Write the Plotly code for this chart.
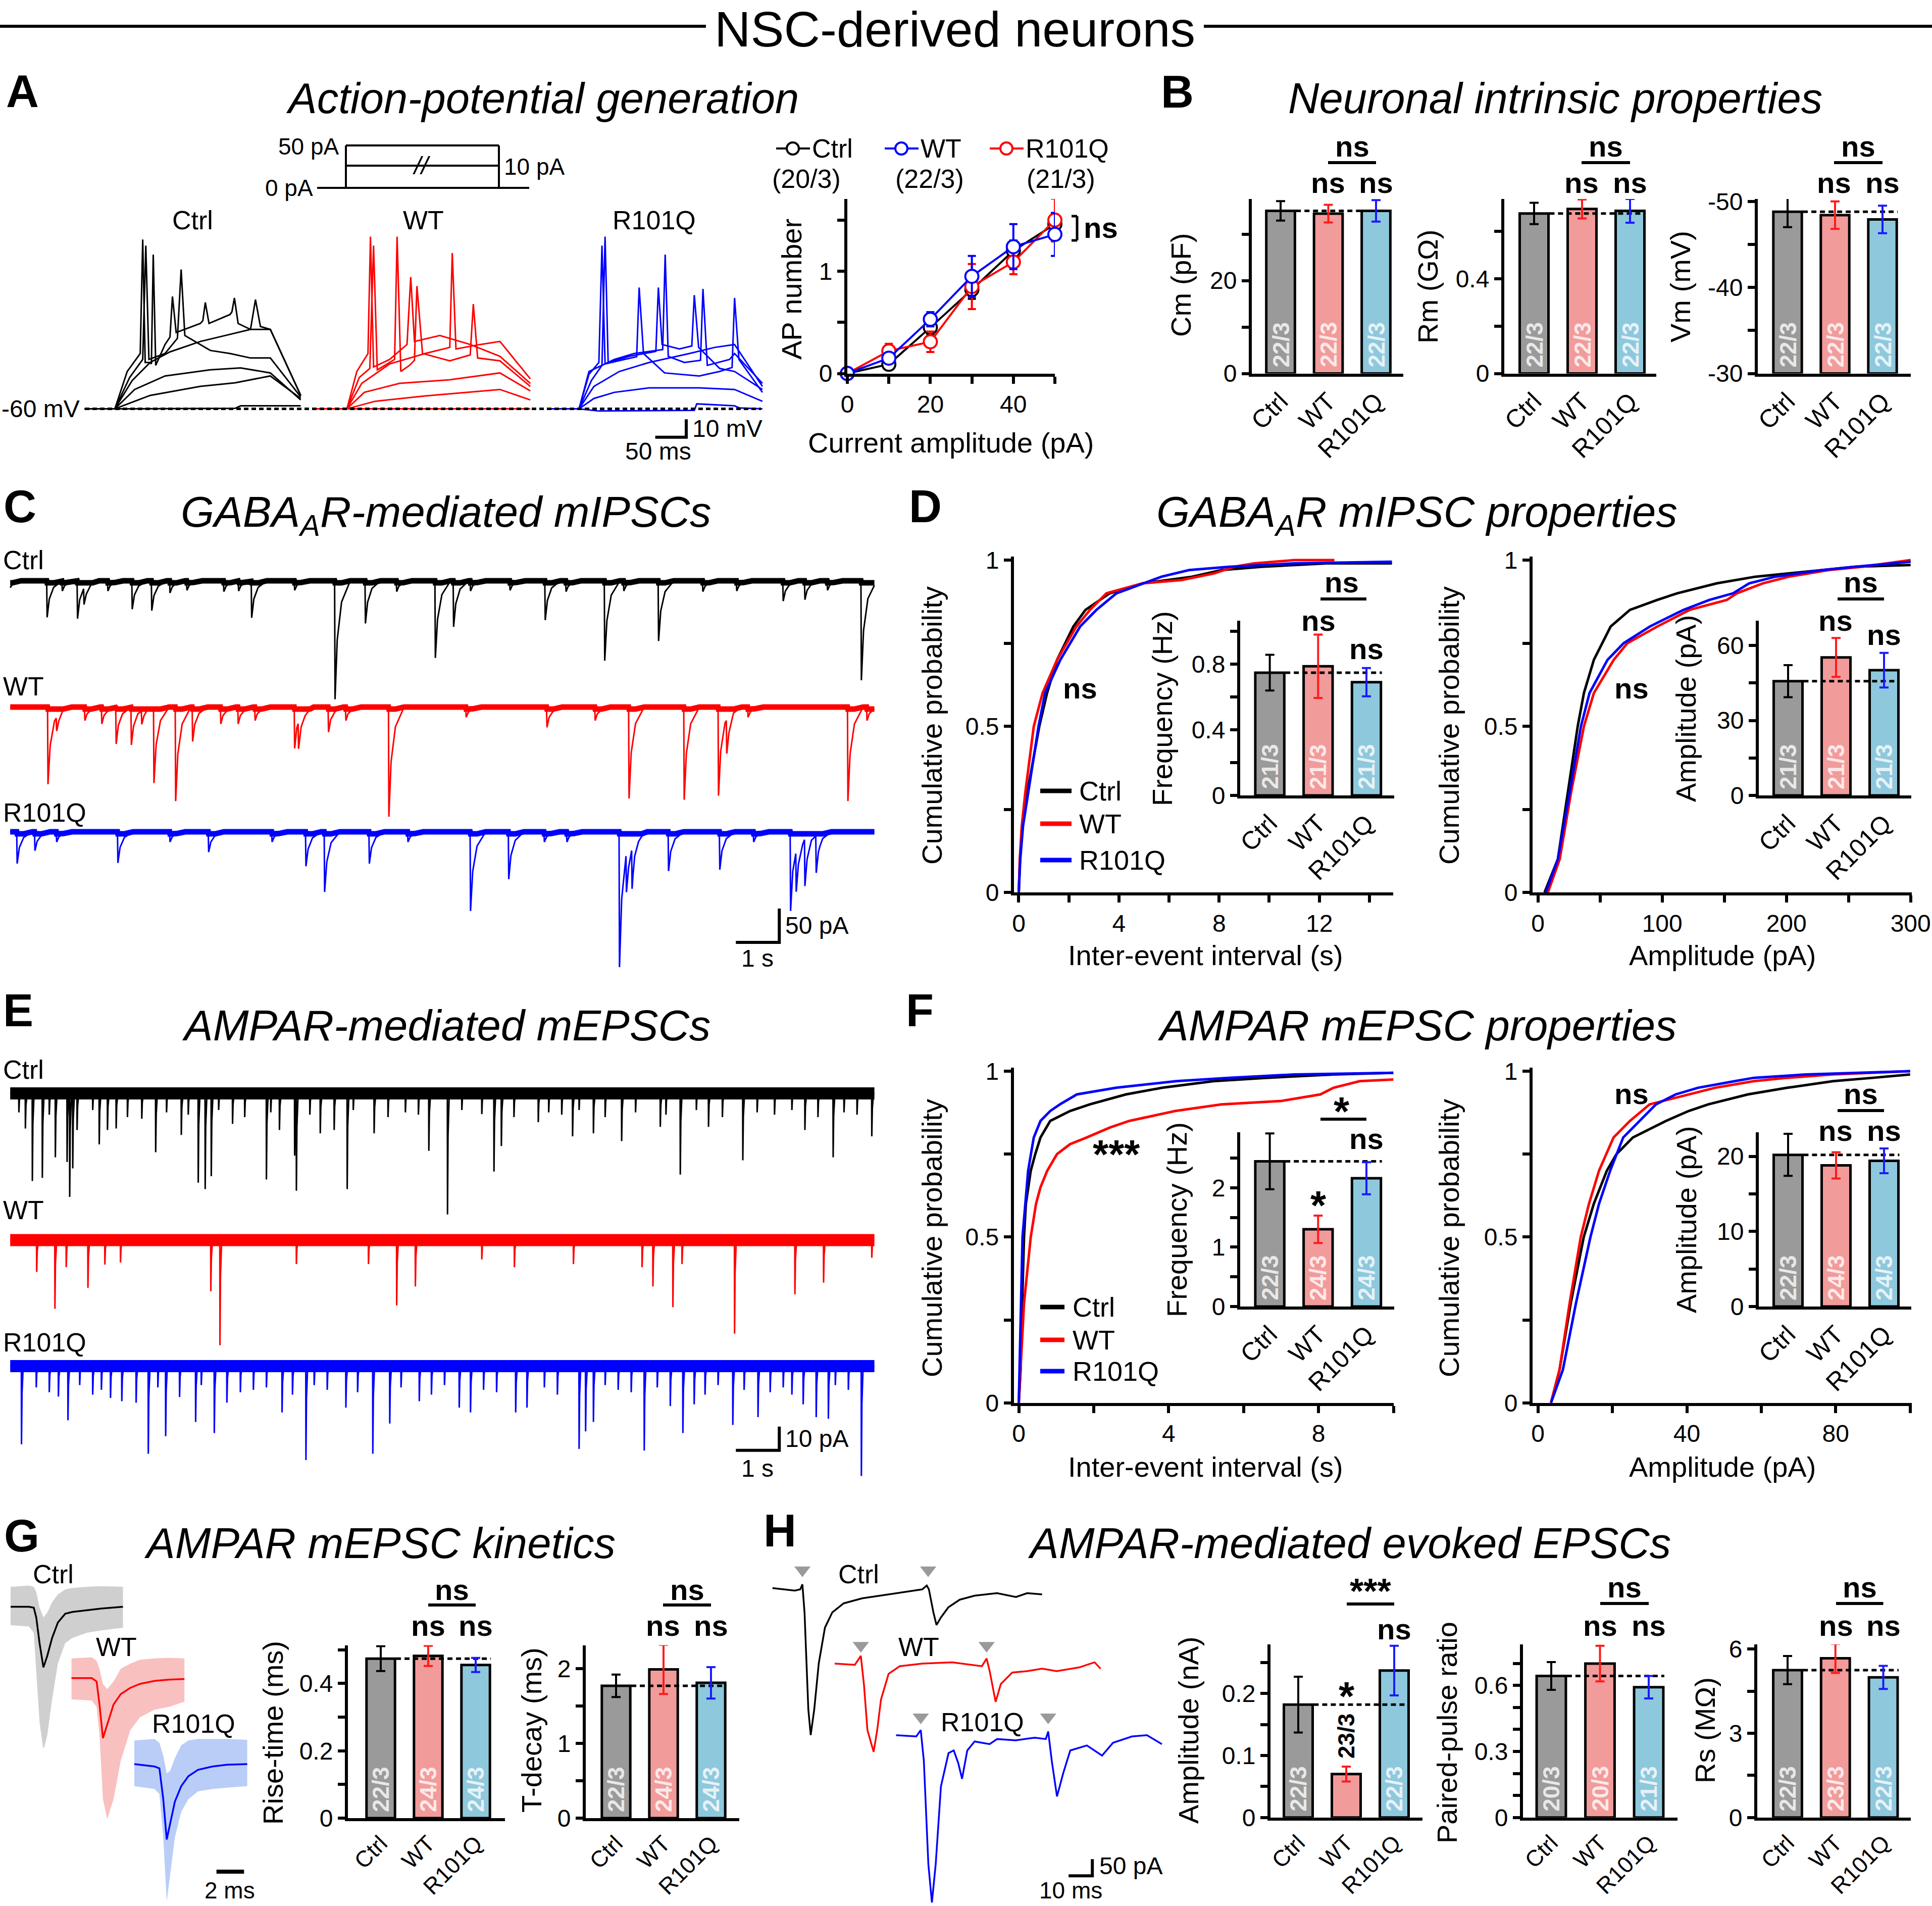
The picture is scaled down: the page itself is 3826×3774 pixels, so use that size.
import numpy as np
import plotly.graph_objects as go

W, H = 3826, 3774
FONT = "Liberation Sans, Arial, Helvetica, sans-serif"

# ------------------------------------------------------------------ DATA
GROUPS = ["Ctrl", "WT", "R101Q"]
BAR_FILL = ["#9a9a9a", "#f29b9b", "#8ec8dd"]
ERR_COL = ["#000000", "#ff1a1a", "#1a1aff"]
TRACE_COL = ["#000000", "#ff0000", "#0000ff"]
ENV_COL = ["#cfcfcf", "#f9c0c0", "#b9cdf7"]

# A: example voltage responses (ms, mV), six current steps each
A_REST_MV = -60
A_CTRL_T = [
    [-49, 0, 194, 203, 300],
    [-49, 0, 57, 138, 194, 251, 300],
    [-49, 0, 32, 81, 154, 203, 251, 300],
    [-49, 0, 28, 57, 89, 138, 178, 219, 227, 235, 251, 300],
    [-49, 0, 24, 45, 50, 55, 81, 101, 107, 113, 154, 186, 219, 251, 300],
    [-49, 0, 20, 41, 45, 49, 57, 59, 62, 66, 81, 89, 93, 99, 138, 142, 146, 152, 186, 189, 193, 199, 219, 251, 300],
]
A_CTRL_V = [
    [-60, -60, -59.7, -58.3, -58.3],
    [-60, -60, -52.5, -47.5, -45.5, -41.7, -54.2],
    [-60, -60, -49.2, -41.7, -38.3, -37.2, -40.0, -55.0],
    [-60, -60, -44.2, -34.2, -28.3, -22.5, -19.2, -15.8, 0.8, -14.2, -15.8, -52.5],
    [-60, -60, -42.5, -32.5, 30.8, -32.5, -29.2, -20.8, 17.5, -19.2, -27.5, -29.2, -31.7, -31.7, -53.3],
    [-60, -60, -39.2, -29.2, 34.2, -34.2, -34.2, -35.0, 25.8, -35.8, -24.2, -20, 2.5, -17.5, -12.5, -11, -0.8, -12.5, -7.5, -6, 1.7, -12.5, -15.8, -15.8, -52.5],
]
A_WT_T = [
    [-49, 0, 296],
    [-49, 0, 45, 126, 247, 296],
    [-49, 0, 28, 85, 166, 247, 296],
    [-49, 0, 24, 69, 126, 166, 170, 176, 215, 247, 296],
    [-49, 0, 20, 37, 43, 49, 77, 81, 87, 101, 109, 113, 122, 166, 199, 204, 211, 247, 296],
    [-49, 0, 16, 34, 38, 43, 69, 97, 103, 109, 150, 166, 199, 247, 296],
]
A_WT_V = [
    [-60, -60, -60],
    [-60, -60, -55.8, -52.8, -49.2, -55.0],
    [-60, -60, -50.8, -45.8, -43.8, -40.0, -50.0],
    [-60, -60, -45.8, -35.0, -29.2, -25.8, 26.7, -26.7, -24.2, -22.5, -43.3],
    [-60, -60, -42.5, -37.5, 30.8, -38.3, -32.5, 35.8, -39.2, -35.8, -33, 8.3, -29.2, -33.3, -30, -1.7, -31.7, -33.3, -47.5],
    [-60, -60, -39.2, -29.2, 35.8, -36.7, -32.5, -24.2, 13.3, -22.5, -19.2, -20.8, -24.2, -30.8, -45.8],
]
A_R101Q_T = [
    [-49, 0, 32, 186, 190, 251, 259, 296],
    [-49, 0, 24, 57, 113, 194, 251, 296],
    [-49, 0, 24, 65, 113, 178, 219, 251, 296],
    [-49, 0, 20, 37, 42, 47, 81, 124, 128, 134, 162, 182, 186, 193, 227, 251, 296],
    [-49, 0, 16, 32, 37, 42, 73, 93, 97, 104, 138, 194, 227, 247, 251, 258, 296],
    [-49, 0, 16, 57, 89, 135, 139, 144, 170, 196, 200, 207, 243, 251, 296],
]
A_R101Q_V = [
    [-60, -60, -61.2, -60.8, -57.2, -58.3, -59.5, -60],
    [-60, -60, -54.2, -50.8, -48.3, -48.3, -49.2, -55.8],
    [-60, -60, -47.5, -39.2, -34.2, -29.2, -25.8, -24.2, -47.5],
    [-60, -60, -44.2, -35.8, 35.8, -34.2, -30.8, -28, 7.5, -24.2, -26.7, -25, 3.3, -25.8, -37.5, -39.2, -49.2],
    [-60, -60, -40.8, -34.2, 30.8, -35.0, -32.5, -31, 7.5, -29.2, -40.0, -41.7, -39.2, -37, 1.7, -32.5, -50.8],
    [-60, -60, -39.2, -32.5, -29.2, -27, 25.8, -30.8, -34.2, -33, 6.7, -35.8, -32.5, -29.2, -45.8],
]

# A: AP number vs current
AP_CURRENT = [0, 10, 20, 30, 40, 50]
AP_CTRL = [0, 0.09, 0.45, 0.82, 1.20, 1.46]
AP_CTRL_ERR = [0, 0.03, 0.07, 0.09, 0.10, 0.08]
AP_WT = [0, 0.15, 0.53, 0.95, 1.24, 1.36]
AP_WT_ERR = [0, 0.04, 0.07, 0.20, 0.22, 0.21]
AP_R101Q = [0, 0.22, 0.31, 0.85, 1.09, 1.50]
AP_R101Q_ERR = [0, 0.07, 0.10, 0.22, 0.12, 0.21]
AP_N = ["(20/3)", "(22/3)", "(21/3)"]

# B
B_CM = [35.0, 34.4, 35.0]
B_CM_ERR = [2.1, 1.9, 2.3]
B_RM = [0.676, 0.695, 0.687]
B_RM_ERR = [0.045, 0.040, 0.050]
B_VM = [-48.8, -48.4, -47.9]
B_VM_ERR = [1.8, 1.6, 1.6]
B_N = ["22/3", "22/3", "22/3"]

# C: mIPSC events (time s, amplitude pA)
C_CTRL_T = [-0.1, 0.85, 1.55, 1.70, 2.81, 3.26, 5.56, 7.48, 8.18, 9.79, 10.21, 12.32, 13.69, 14.93, 17.80, 18.30, 19.60,
            1.20, 2.25, 3.68, 4.07, 4.92, 5.26, 6.55, 8.90, 10.60, 11.51, 12.80, 14.13, 15.95, 16.73, 18.82]
C_CTRL_A = [30, 54, 56, 25, 42, 44, 54, 175, 63, 114, 68, 58, 118, 89, 30, 28, 147,
            15, 15, 18, 14, 16, 15, 14, 16, 15, 14, 16, 15, 16, 15, 14]
C_WT_T = [0.87, 1.07, 2.44, 2.79, 3.31, 3.81, 4.20, 6.55, 6.64, 7.33, 8.72, 12.36, 14.25, 15.52, 16.31, 16.50, 19.29,
          1.72, 2.11, 3.03, 4.85, 5.25, 5.64, 7.73, 10.5, 13.47, 16.99, 19.73]
C_WT_A = [114, 20, 54, 56, 111, 139, 51, 61, 39, 37, 162, 30, 135, 137, 131, 50, 139,
          20, 25, 20, 25, 25, 20, 20, 15, 20, 15, 20]
C_R101Q_T = [0.16, 0.57, 2.48, 4.57, 6.81, 7.24, 8.27, 10.60, 11.48, 14.03, 14.19, 14.32, 15.16, 16.34, 17.97, 18.10, 18.30, 18.56,
             1.07, 3.68, 6.03, 9.16, 12.30, 12.82, 17.12]
C_R101Q_A = [47, 28, 46, 30, 51, 89, 47, 117, 70, 200, 55, 60, 58, 56, 117, 60, 70, 55,
             15, 15, 15, 15, 15, 15, 15]

# D: cumulative distributions and means
D_ISI_CTRL_X = [0, 0.05, 0.15, 0.34, 0.82, 1.13, 1.53, 2.18, 2.66, 3.63, 4.95, 6.92, 8.1, 9.7, 12.3, 14.9]
D_ISI_CTRL_Y = [0, 0.1, 0.2, 0.3, 0.5, 0.6, 0.7, 0.8, 0.85, 0.9, 0.93, 0.95, 0.97, 0.98, 0.99, 0.99]
D_ISI_WT_X = [0, 0.04, 0.12, 0.26, 0.6, 0.95, 1.53, 2.3, 2.84, 3.5, 4.95, 6.5, 7.8, 8.6, 9.4, 11.0, 12.6]
D_ISI_WT_Y = [0, 0.1, 0.2, 0.3, 0.5, 0.6, 0.7, 0.8, 0.85, 0.9, 0.93, 0.94, 0.96, 0.98, 0.99, 1.0, 1.0]
D_ISI_R101Q_X = [0, 0.06, 0.17, 0.37, 0.79, 1.05, 1.66, 2.45, 3.1, 3.9, 4.95, 5.7, 6.8, 8.4, 11.0, 14.9]
D_ISI_R101Q_Y = [0, 0.1, 0.2, 0.3, 0.5, 0.6, 0.7, 0.8, 0.85, 0.9, 0.93, 0.95, 0.97, 0.98, 0.99, 0.995]
D_AMP_CTRL_X = [5.3, 16, 24, 32, 37, 45, 58.5, 74, 96, 112, 144, 175, 229, 255, 300]
D_AMP_CTRL_Y = [0, 0.1, 0.3, 0.5, 0.6, 0.7, 0.8, 0.85, 0.88, 0.9, 0.93, 0.95, 0.97, 0.98, 0.985]
D_AMP_WT_X = [8, 17.5, 26.6, 37, 45, 61, 72, 96, 122, 152, 160, 181, 202, 234, 261, 282, 300]
D_AMP_WT_Y = [0, 0.1, 0.3, 0.5, 0.6, 0.7, 0.75, 0.8, 0.85, 0.88, 0.9, 0.93, 0.95, 0.97, 0.98, 0.99, 1.0]
D_AMP_R101Q_X = [6.4, 16, 25.5, 34.6, 41.5, 56, 69, 90, 117, 138, 157, 170, 191, 229, 255, 282, 300]
D_AMP_R101Q_Y = [0, 0.1, 0.3, 0.5, 0.6, 0.7, 0.75, 0.8, 0.85, 0.88, 0.9, 0.93, 0.95, 0.97, 0.98, 0.99, 0.995]
D_FREQ = [0.748, 0.787, 0.690]
D_FREQ_ERR = [0.109, 0.193, 0.086]
D_AMP = [45.7, 55.2, 50.1]
D_AMP_ERR = [6.4, 7.8, 6.9]
D_N = ["21/3", "21/3", "21/3"]

# E: mEPSC events (time s, amplitude pA)
E_CTRL_T = [0.35, 0.51, 0.74, 1.04, 1.31, 1.37, 1.44, 1.54, 2.05, 2.24, 2.44, 3.03, 3.35, 3.94, 4.33, 4.49, 4.63, 5.12,
            5.90, 6.20, 6.55, 6.59, 7.14, 7.46, 7.76, 8.38, 9.64, 10.07, 10.86, 11.14, 11.31, 12.16, 12.95, 13.43,
            14.08, 14.97, 15.43, 16.08, 16.87, 18.30, 18.95, 19.84,
            0.2, 0.9, 1.9, 2.7, 3.6, 4.1, 4.8, 5.4, 6.0, 6.9, 7.9, 8.7, 9.1, 9.4, 10.4, 11.6, 12.4, 12.7, 13.1, 13.7,
            14.4, 15.1, 15.8, 16.4, 17.2, 17.6, 18.0, 18.6, 19.2, 19.5]
E_CTRL_A = [14.8, 36.9, 35.6, 26.9, 28.9, 43.6, 31.6, 15.4, 21.5, 15.4, 14.8, 10.7, 24.8, 17.5, 37.6, 40.3, 34.9, 12.8,
            36.3, 15.4, 26.2, 41.0, 16.8, 15.4, 40.3, 16.8, 24.2, 51.0, 8.7, 32.9, 22.2, 12.1, 18.1, 16.8,
            20.1, 14.1, 34.2, 14.1, 28.2, 15.4, 26.9, 18.1,
            8, 9, 7, 10, 8, 9, 7, 10, 8, 9, 7, 10, 8, 9, 7, 10, 8, 9, 7, 10,
            8, 9, 7, 10, 8, 9, 7, 10, 8, 9]
E_WT_T = [0.61, 1.03, 1.29, 1.79, 2.18, 2.54, 4.62, 4.83, 6.59, 8.25, 8.90, 9.33, 10.86, 11.61, 12.97, 14.55, 14.80,
          15.26, 15.47, 16.68, 18.07, 18.73, 19.84]
E_WT_A = [13.4, 28.9, 11.4, 20.1, 10.3, 9.4, 21.5, 44.3, 10.1, 10.1, 27.5, 19.5, 8.1, 11.4, 10.1, 11.4, 19.5,
          28.2, 10.1, 39.4, 22.8, 17.9, 7.4]
E_R101Q_T = [0.26, 1.11, 1.33, 2.31, 2.57, 2.90, 3.18, 3.58, 4.27, 4.70, 4.99, 6.26, 6.81, 7.73, 8.35, 8.74, 9.42,
             10.34, 10.60, 11.64, 11.90, 13.10, 13.25, 13.43, 14.60, 15.20, 15.49, 15.75, 16.64, 17.22, 18.26, 18.56,
             18.84, 19.60,
             0.6, 0.9, 1.6, 1.9, 2.1, 3.4, 3.9, 4.4, 5.3, 5.6, 5.9, 6.5, 7.0, 7.3, 8.0, 9.0, 9.7, 10.0, 10.9, 11.2,
             12.3, 12.6, 13.7, 14.0, 14.3, 14.9, 16.0, 16.3, 16.9, 17.5, 17.8, 18.0, 19.0, 19.3]
E_R101Q_A = [32.9, 12.8, 22.8, 13.4, 14.8, 15.4, 36.9, 29.5, 23.5, 28.2, 15.4, 19.5, 39.6, 17.5, 36.9, 24.2, 14.8,
             17.5, 19.5, 19.5, 17.5, 34.9, 27.5, 23.5, 35.6, 16.8, 28.2, 16.1, 24.8, 21.5, 16.1, 21.5,
             22.2, 46.3,
             9, 11, 8, 12, 10, 9, 13, 8, 11, 10, 9, 12, 8, 10, 11, 9, 12, 8, 10, 11,
             9, 12, 8, 10, 11, 9, 12, 8, 10, 11, 9, 12, 8, 10]

# F
F_ISI_CTRL_X = [0, 0.05, 0.09, 0.14, 0.19, 0.32, 0.44, 0.58, 0.84, 1.37, 1.9, 2.86, 3.83, 5.2, 6.6, 8.4, 10.0]
F_ISI_CTRL_Y = [0, 0.1, 0.3, 0.5, 0.6, 0.7, 0.75, 0.8, 0.85, 0.88, 0.9, 0.93, 0.95, 0.97, 0.98, 0.99, 0.995]
F_ISI_WT_X = [0, 0.14, 0.32, 0.46, 0.58, 0.76, 1.02, 1.37, 1.81, 2.43, 2.95, 4.18, 5.41, 7.0, 8.05, 8.4, 9.1, 10.0]
F_ISI_WT_Y = [0, 0.3, 0.5, 0.6, 0.65, 0.7, 0.75, 0.78, 0.8, 0.83, 0.85, 0.88, 0.9, 0.91, 0.93, 0.95, 0.97, 0.975]
F_ISI_R101Q_X = [0, 0.1, 0.25, 0.4, 0.58, 0.84, 1.1, 1.55, 2.6, 4.2, 5.6, 7.35, 10.0]
F_ISI_R101Q_Y = [0, 0.5, 0.7, 0.8, 0.85, 0.88, 0.9, 0.93, 0.95, 0.97, 0.98, 0.99, 0.995]
F_AMP_CTRL_X = [3.5, 5.8, 8.8, 12.3, 15, 18.5, 21.1, 25.5, 34.4, 40.5, 45.8, 56.4, 67, 79.3, 90, 100]
F_AMP_CTRL_Y = [0, 0.1, 0.3, 0.5, 0.6, 0.7, 0.75, 0.8, 0.85, 0.88, 0.9, 0.93, 0.95, 0.97, 0.98, 0.99]
F_AMP_WT_X = [3.5, 5.8, 8.5, 11.5, 13.7, 16.4, 20.3, 24.7, 30, 40.5, 47.6, 58, 67, 79, 100]
F_AMP_WT_Y = [0, 0.1, 0.3, 0.5, 0.6, 0.7, 0.8, 0.85, 0.9, 0.93, 0.95, 0.97, 0.98, 0.99, 1.0]
F_AMP_R101Q_X = [3.5, 6.7, 10.2, 14.1, 16.4, 19.4, 22.9, 27.3, 31.7, 37, 43, 52.9, 58, 72, 100]
F_AMP_R101Q_Y = [0, 0.1, 0.3, 0.5, 0.6, 0.7, 0.8, 0.85, 0.9, 0.93, 0.95, 0.97, 0.98, 0.99, 1.0]
F_FREQ = [2.445, 1.30, 2.16]
F_FREQ_ERR = [0.47, 0.23, 0.27]
F_AMP = [20.2, 18.8, 19.4]
F_AMP_ERR = [2.8, 1.75, 1.65]
F_N = ["22/3", "24/3", "24/3"]

# G: averaged mEPSCs (ms, pA): mean and envelope
G_CTRL_T = [0, 1.33, 1.68, 1.86, 2.1, 2.38, 2.66, 3.01, 3.43, 3.96, 4.48, 5.53, 6.58, 8.15]
G_CTRL_MEAN = [0, 0, -0.3, -3.5, -12, -20, -16.2, -10.3, -5.2, -2.3, -1.7, -1.2, -0.6, 0]
G_CTRL_UP = [6.6, 7.0, 6.6, 4.9, -0.2, -3.5, -1.9, 1.5, 4.1, 5.7, 6.2, 6.6, 6.8, 6.6]
G_CTRL_LO = [-6.1, -6.5, -8.6, -21.3, -38.1, -47.4, -42.4, -30.6, -18.7, -12, -10.3, -8.6, -7.8, -6.9]
G_WT_T = [0, 1.47, 1.82, 2.03, 2.28, 2.59, 3.05, 3.57, 4.27, 4.97, 6.02, 7.07, 8.19]
G_WT_MEAN = [0, 0, -1.1, -8.7, -19.8, -15.4, -8.7, -5.3, -3.2, -1.9, -0.9, -0.5, -0.3]
G_WT_UP = [6.5, 6.9, 5.7, 3.1, -1.9, -3.6, -1.1, 3.1, 4.8, 6.1, 6.5, 6.7, 6.5]
G_WT_LO = [-7, -7.4, -9.5, -18.8, -39.9, -46.5, -39.9, -27.3, -17.1, -12.9, -10.4, -9.5, -7.8]
G_R101Q_T = [0, 1.47, 1.82, 2.1, 2.35, 2.59, 2.94, 3.40, 3.92, 4.62, 5.67, 6.72, 8.19]
G_R101Q_MEAN = [0, -0.8, -1.4, -11.6, -24.9, -20, -12.4, -7.3, -4, -1.9, -0.8, -0.2, 0]
G_R101Q_UP = [7.8, 8.3, 7, 2.8, -3.1, -2.3, 1.9, 6.2, 7.8, 8.3, 8.3, 8.3, 8.0]
G_R101Q_LO = [-7.3, -8.2, -9.9, -24.2, -45.3, -36.9, -24.2, -15.8, -11.6, -9, -8.2, -7.8, -7.3]
G_RISE = [0.474, 0.482, 0.455]
G_RISE_ERR = [0.037, 0.030, 0.021]
G_DECAY = [1.77, 1.99, 1.81]
G_DECAY_ERR = [0.15, 0.33, 0.21]
G_N = ["22/3", "24/3", "24/3"]

# H: evoked EPSCs (ms, pA)
H_CTRL_T = [-12.6, -3.2, -0.9, 0, 0.9, 2.5, 3.5, 5.0, 6.9, 9.5, 12.6, 17.4, 25.2, 34.7, 44.2, 50.5, 52.4, 53.3, 55.2,
            56.5, 58.4, 61.5, 66.3, 72.6, 82, 90, 94.7, 101]
H_CTRL_V = [3.8, -3.8, 0, 15, -69, -360, -437, -360, -222, -115, -69, -42, -27, -17, -7.7, 0, 11.5, 0, -69,
            -107, -84, -54, -31, -19, -11.5, -23, -11.5, -15]
H_WT_T = [-11, -2.5, 0, 1.3, 2.8, 5.4, 6.9, 8.5, 11.7, 16.4, 25.9, 38.5, 51, 53, 54.3, 56.8, 59, 63.8, 70, 76.4,
          82.5, 92, 98.5, 101]
H_WT_V = [3.8, 0, 27, -57.5, -196, -261, -196, -104, -27, -4, 3.8, 7.7, -4, 19, -19, -111, -57.5, -23, -19, -11.5,
          -19, -7.7, 7.7, -11.5]
H_R101Q_T = [-10.4, -1.9, 0, 1.3, 3.2, 4.7, 6.3, 8.5, 11.7, 13.9, 15.8, 17.4, 19.6, 22.7, 29, 32.2, 40, 48, 52.7,
             53.7, 55.2, 57.4, 60, 63, 70, 76.4, 81, 89, 95.3, 101.6]
H_R101Q_V = [3.8, 0, 19, -73, -383, -498, -383, -150, -50, -42, -80, -127, -42, -15, -23, -7.7, -11.5, -3.8, -7.7,
             15, -73, -180, -111, -42, -27, -57.5, -19, 0, 3.8, -23]
H_STIM_T = [[0, 53], [0, 53], [0, 53.7]]
H_AMP = [0.182, 0.070, 0.237]
H_AMP_ERR = [0.045, 0.012, 0.040]
H_AMP_N = ["22/3", "23/3", "22/3"]
H_PPR = [0.643, 0.699, 0.592]
H_PPR_ERR = [0.063, 0.081, 0.051]
H_PPR_N = ["20/3", "20/3", "21/3"]
H_RS = [5.25, 5.67, 4.99]
H_RS_ERR = [0.50, 0.52, 0.41]
H_RS_N = ["22/3", "23/3", "22/3"]

# ------------------------------------------------------------------ HELPERS
fig = go.Figure()
LAY, ANN, SHP = {}, [], []
_n = [0]
TICK, TTL, LAB, NS, AST = 48, 56, 52, 58, 80

AXSTYLE = dict(showline=True, linecolor="black", linewidth=6, ticks="outside", tickcolor="black",
               tickwidth=6, ticklen=14, tickfont=dict(size=TICK, color="black", family=FONT),
               showgrid=False, zeroline=False, fixedrange=True, automargin=False)


def new_axes(xmap, xr, ymap, yr, xopt=None, yopt=None, visible=True):
    _n[0] += 1
    n = _n[0]
    s = "" if n == 1 else str(n)
    xl = xmap[0] + (xr[0] - xmap[1]) * xmap[2]
    xh = xmap[0] + (xr[1] - xmap[1]) * xmap[2]
    yb = ymap[0] - (yr[0] - ymap[1]) * ymap[2]
    yt = ymap[0] - (yr[1] - ymap[1]) * ymap[2]
    if visible:
        xa, ya = dict(AXSTYLE), dict(AXSTYLE)
    else:
        xa = dict(visible=False, showgrid=False, zeroline=False, fixedrange=True, automargin=False)
        ya = dict(xa)
    xa.update(domain=[max(0, xl / W), min(1, xh / W)], range=list(xr), anchor="y" + s)
    ya.update(domain=[max(0, 1 - yb / H), min(1, 1 - yt / H)], range=list(yr), anchor="x" + s)
    if xopt:
        xa.update(xopt)
    if yopt:
        ya.update(yopt)
    LAY["xaxis" + s] = xa
    LAY["yaxis" + s] = ya
    return "x" + s, "y" + s


def txt(s, x, y, size=LAB, xa="center", ya="middle", ang=0, color="black", xref="paper", yref="paper", yshift=0):
    ANN.append(dict(text=s, x=(x / W if xref == "paper" else x), y=(1 - y / H if yref == "paper" else y),
                    xref=xref, yref=yref, xanchor=xa, yanchor=ya, textangle=ang, showarrow=False,
                    yshift=yshift, font=dict(size=size, color=color, family=FONT)))


def seg(x0, y0, x1, y1, w=6, color="black"):
    SHP.append(dict(type="line", xref="paper", yref="paper", x0=x0 / W, y0=1 - y0 / H, x1=x1 / W,
                    y1=1 - y1 / H, line=dict(color=color, width=w)))


def sig(s, x, y, size=None):
    # y = visual centre of the glyphs (px)
    if "*" in s:
        f = size or AST
        txt("<b>" + s + "</b>", x, y + 0.25 * f, size=f)
    else:
        txt("<b>" + s + "</b>", x, y, size=size or NS)


def line_tr(x, y, xa, ya, color="black", width=3, dash=None):
    ln = dict(color=color, width=width)
    if dash:
        ln["dash"] = dash
    fig.add_trace(go.Scatter(x=x, y=y, mode="lines", line=ln, xaxis=xa, yaxis=ya, hoverinfo="skip",
                             showlegend=False))


def bar_panel(centers, left, right, y0px, toppx, ppu, base, vals, errs, nlab, tv, tt,
              nlab_above=None, xfont=50):
    sp = (centers[2] - centers[0]) / 2.0
    xr = [1 - (centers[0] - left) / sp, 3 + (right - centers[2]) / sp]
    ytop = base + (y0px - toppx) / ppu
    xa, ya = new_axes((centers[0], 1, sp), xr, (y0px, base, ppu), [base, ytop],
                      xopt=dict(tickvals=[1, 2, 3], ticktext=GROUPS, ticks="", tickangle=-45,
                                tickfont=dict(size=xfont, color="black", family=FONT)),
                      yopt=dict(tickvals=tv, ticktext=tt))
    for i in range(3):
        fig.add_trace(go.Bar(x=[i + 1], y=[vals[i] - base], base=[base], width=0.6,
                             marker=dict(color=BAR_FILL[i], line=dict(color="black", width=5)),
                             xaxis=xa, yaxis=ya, hoverinfo="skip", showlegend=False))
    line_tr([1.32, 3.32], [vals[0], vals[0]], xa, ya, width=5, dash="10px,7px")
    for i in range(3):
        fig.add_trace(go.Scatter(x=[i + 1], y=[vals[i]], mode="markers",
                                 marker=dict(size=1, color="rgba(0,0,0,0)"),
                                 error_y=dict(type="data", array=[errs[i]], color=ERR_COL[i], thickness=4, width=9),
                                 cliponaxis=False, xaxis=xa, yaxis=ya, hoverinfo="skip", showlegend=False))
    for i in range(3):
        if nlab_above is not None and i == nlab_above:
            txt("<b>" + nlab[i] + "</b>", i + 1, vals[i] + errs[i], size=46, ya="bottom", ang=-90,
                color="black", xref=xa, yref=ya, yshift=14)
        else:
            txt("<b>" + nlab[i] + "</b>", i + 1, base, size=46, ya="bottom", ang=-90,
                color="rgba(255,255,255,0.78)", xref=xa, yref=ya, yshift=10)
    return xa, ya


def event_trace(times, amps, kt, kf, t0, t1):
    pts = {t0, t1}
    for t in times:
        for k in kt:
            pts.add(round(t + k, 5))
    tt = np.array(sorted(p for p in pts if t0 <= p <= t1))
    yy = np.zeros_like(tt)
    for t, a in zip(times, amps):
        yy -= a * np.interp(tt - t, kt, kf, left=0.0, right=0.0)
    return tt, yy


# ------------------------------------------------------------------ TITLE
txt("NSC-derived neurons", 1891, 0, size=99, ya="top")
seg(0, 52, 1398, 52, w=6)
seg(2384, 52, 3826, 52, w=6)

for letter, x, y in [("A", 44, 181), ("B", 2331, 182), ("C", 39, 1003), ("D", 1832, 1003),
                     ("E", 36, 2001), ("F", 1821, 2001), ("G", 43, 3041), ("H", 1544, 3031)]:
    txt("<b>" + letter + "</b>", x, y, size=90)

for s, x, y in [("Action-potential generation", 1074, 195), ("Neuronal intrinsic properties", 3080, 195),
                ("GABA<sub>A</sub>R-mediated mIPSCs", 883, 1020), ("GABA<sub>A</sub>R mIPSC properties", 2806, 1020),
                ("AMPAR-mediated mEPSCs", 883, 2030), ("AMPAR mEPSC properties", 2806, 2030),
                ("AMPAR mEPSC kinetics", 752, 3055), ("AMPAR-mediated evoked EPSCs", 2672, 3055)]:
    txt("<i>" + s + "</i>", x, y, size=85)

# ------------------------------------------------------------------ PANEL A
seg(628, 372, 1048, 372, w=4)
seg(685, 288, 685, 372, w=4)
seg(988, 288, 988, 372, w=4)
seg(685, 288, 988, 288, w=4)
seg(685, 328, 988, 328, w=4)
txt("50 pA", 674, 290, size=46, xa="right")
txt("10 pA", 996, 330, size=46, xa="left")
txt("0 pA", 622, 372, size=46, xa="right")
txt("<i>//</i>", 835, 328, size=50)

A_START_PX = [227.4, 687.0, 1146.7]
a_axes = []
for gi, (TT, VV) in enumerate([(A_CTRL_T, A_CTRL_V), (A_WT_T, A_WT_V), (A_R101Q_T, A_R101Q_V)]):
    xa, ya = new_axes((A_START_PX[gi], 0, 1.227), [-55, 305], (809.6, -60, 3.56), [-80, 40], visible=False)
    a_axes.append((xa, ya))
    for t, v in zip(TT, VV):
        line_tr(t, v, xa, ya, color=TRACE_COL[gi], width=3)
SHP.append(dict(type="line", xref="paper", yref=a_axes[0][1], x0=168 / W, x1=1507 / W, y0=A_REST_MV,
                y1=A_REST_MV, line=dict(color="black", width=5, dash="9px,6px")))
txt("-60 mV", 160, A_REST_MV, size=48, xa="right", yref=a_axes[0][1])
txt("Ctrl", 381, 436, size=LAB)
txt("WT", 838, 436, size=LAB)
txt("R101Q", 1295, 436, size=LAB)
xa, ya = a_axes[2]
line_tr([123, 173, 173], [-75.8, -75.8, -65.8], xa, ya, width=6)
txt("10 mV", 1369, 848, size=48, xa="left")
txt("50 ms", 1303, 893, size=48)

xa, ya = new_axes((1678, 0, 8.22), [0, 50], (739.5, 0, 202.5), [0, 1.706],
                  xopt=dict(tickvals=[0, 10, 20, 30, 40, 50], ticktext=["0", "", "20", "", "40", ""]),
                  yopt=dict(tickvals=[0, 0.5, 1, 1.5], ticktext=["0", "", "1", ""]))
for vals, errs, col in [(AP_CTRL, AP_CTRL_ERR, "#000000"), (AP_R101Q, AP_R101Q_ERR, "#ff0000"),
                        (AP_WT, AP_WT_ERR, "#0000ff")]:
    fig.add_trace(go.Scatter(x=AP_CURRENT, y=vals, mode="lines+markers",
                             line=dict(color=col, width=4),
                             marker=dict(symbol="circle", size=26, color="white", line=dict(color=col, width=4)),
                             error_y=dict(type="data", array=errs, color=col, thickness=4, width=8),
                             cliponaxis=False, xaxis=xa, yaxis=ya, hoverinfo="skip", showlegend=False))
txt("AP number", 1567, 573, size=TTL, ang=-90)
txt("Current amplitude (pA)", 1883, 876, size=TTL)
for (lx0, lx1, cx, tx, nx), name, col, nn in zip(
        [(1537, 1604, 1570, 1606, 1597), (1752, 1819, 1785, 1821, 1841), (1960, 2027, 1993, 2029, 2101)],
        GROUPS, ["#000000", "#0000ff", "#ff0000"], AP_N):
    seg(lx0, 294, lx1, 294, w=4, color=col)
    SHP.append(dict(type="circle", xref="paper", yref="paper", x0=(cx - 12) / W, x1=(cx + 12) / W,
                    y0=1 - (294 + 12) / H, y1=1 - (294 - 12) / H, fillcolor="white",
                    line=dict(color=col, width=4)))
    txt(name, tx, 294, size=LAB, xa="left")
    txt(nn, nx, 354, size=LAB)
seg(2133, 428, 2133, 476, w=5)
seg(2122, 428, 2133, 428, w=5)
seg(2122, 476, 2133, 476, w=5)
sig("ns", 2180, 450)

# ------------------------------------------------------------------ PANEL B
bar_panel((2536, 2630, 2725), 2479, 2779, 739.5, 394, 9.2, 0, B_CM, B_CM_ERR, B_N,
          [0, 10, 20, 30], ["0", "", "20", ""])
bar_panel((3038, 3132, 3228), 2979, 3280, 739.5, 394, 468.7, 0, B_RM, B_RM_ERR, B_N,
          [0, 0.2, 0.4, 0.6], ["0", "", "0.4", ""])
bar_panel((3540, 3632, 3728), 3481, 3784, 739.5, 394, -17.04, -30, B_VM, B_VM_ERR, B_N,
          [-30, -35, -40, -45, -50], ["-30", "", "-40", "", "-50"])
txt("Cm (pF)", 2338, 565, size=TTL, ang=-90)
txt("Rm (GΩ)", 2828, 568, size=TTL, ang=-90)
txt("Vm (mV)", 3328, 568, size=TTL, ang=-90)
for c1, c2 in [(2630, 2725), (3132, 3228), (3632, 3728)]:
    sig("ns", (c1 + c2) / 2, 289)
    seg(c1, 322, c2, 322, w=6)
    sig("ns", c1, 361)
    sig("ns", c2, 361)

# ------------------------------------------------------------------ PANEL C
KC_T = [-0.01, 0.0, 0.05, 0.15, 0.35]
KC_F = [0.0, 1.0, 0.5, 0.18, 0.0]
C_BASE_PX = [1150.0, 1400.0, 1647.0]
c_axes = []
for gi, (T, A) in enumerate([(C_CTRL_T, C_CTRL_A), (C_WT_T, C_WT_A), (C_R101Q_T, C_R101Q_A)]):
    xa, ya = new_axes((20.2, 0, 86.0), [-0.15, 20.1], (C_BASE_PX[gi], 0, 1.34), [-215, 30], visible=False)
    c_axes.append((xa, ya))
    tt, yy = event_trace(T, A, KC_T, KC_F, 0.0, 19.9)
    line_tr(tt, np.maximum(yy, -3), xa, ya, color=TRACE_COL[gi], width=11)
    line_tr(tt, yy, xa, ya, color=TRACE_COL[gi], width=3)
xa, ya = c_axes[2]
line_tr([16.71, 17.71, 17.71], [-163.4, -163.4, -113.4], xa, ya, width=6)
txt("50 pA", 1553, 1832, size=48, xa="left")
txt("1 s", 1500, 1898, size=48)
txt("Ctrl", 4, 1109, size=LAB, xa="left")
txt("WT", 4, 1359, size=LAB, xa="left")
txt("R101Q", 4, 1609, size=LAB, xa="left")


# ------------------------------------------------------------------ PANEL D / F
def cdf_panel(xmap, xr, y0px, ppu_y, xtv, xtt, curves):
    xa, ya = new_axes(xmap, xr, (y0px, 0, ppu_y), [0, 1.01],
                      xopt=dict(tickvals=xtv, ticktext=xtt),
                      yopt=dict(tickvals=[0, 0.25, 0.5, 0.75, 1], ticktext=["0", "", "0.5", "", "1"]))
    for (x, y), col in zip(curves, TRACE_COL):
        line_tr(x, y, xa, ya, color=col, width=5)
    return xa, ya


cdf_panel((2017.5, 0, 49.6), [-0.19, 14.94], 1767, 658, [0, 2, 4, 6, 8, 10, 12, 14],
          ["0", "", "4", "", "8", "", "12", ""],
          [(D_ISI_CTRL_X, D_ISI_CTRL_Y), (D_ISI_WT_X, D_ISI_WT_Y), (D_ISI_R101Q_X, D_ISI_R101Q_Y)])
cdf_panel((3045.7, 0, 2.46), [-4.3, 301], 1767, 658, [0, 50, 100, 150, 200, 250, 300],
          ["0", "", "100", "", "200", "", "300"],
          [(D_AMP_CTRL_X, D_AMP_CTRL_Y), (D_AMP_WT_X, D_AMP_WT_Y), (D_AMP_R101Q_X, D_AMP_R101Q_Y)])
cdf_panel((2017.5, 0, 74.2), [-0.13, 10.0], 2777.7, 656.7, [0, 2, 4, 6, 8, 10],
          ["0", "", "4", "", "8", ""],
          [(F_ISI_CTRL_X, F_ISI_CTRL_Y), (F_ISI_WT_X, F_ISI_WT_Y), (F_ISI_R101Q_X, F_ISI_R101Q_Y)])
cdf_panel((3045.7, 0, 7.37), [-1.45, 100.4], 2777.7, 656.7, [0, 20, 40, 60, 80, 100],
          ["0", "", "40", "", "80", ""],
          [(F_AMP_CTRL_X, F_AMP_CTRL_Y), (F_AMP_WT_X, F_AMP_WT_Y), (F_AMP_R101Q_X, F_AMP_R101Q_Y)])

bar_panel((2514.6, 2611, 2706), 2456, 2761, 1575, 1229, 325, 0, D_FREQ, D_FREQ_ERR, D_N,
          [0, 0.2, 0.4, 0.6, 0.8, 1.0], ["0", "", "0.4", "", "0.8", ""])
bar_panel((3541, 3635, 3731), 3483, 3785, 1575, 1229, 4.95, 0, D_AMP, D_AMP_ERR, D_N,
          [0, 15, 30, 45, 60], ["0", "", "30", "", "60"])
bar_panel((2514.6, 2611, 2706), 2456, 2761, 2587, 2242, 117.6, 0, F_FREQ, F_FREQ_ERR, F_N,
          [0, 0.5, 1, 1.5, 2, 2.5], ["0", "", "1", "", "2", ""])
bar_panel((3541, 3635, 3731), 3483, 3785, 2587, 2242, 14.87, 0, F_AMP, F_AMP_ERR, F_N,
          [0, 5, 10, 15, 20], ["0", "", "10", "", "20"])

for yc in (1437, 2452):
    txt("Cumulative probability", 1845, yc, size=TTL, ang=-90)
    txt("Cumulative probability", 2869, yc, size=TTL, ang=-90)
txt("Inter-event interval (s)", 2387, 1891, size=TTL)
txt("Amplitude (pA)", 3411, 1891, size=TTL)
txt("Inter-event interval (s)", 2387, 2904, size=TTL)
txt("Amplitude (pA)", 3411, 2904, size=TTL)
txt("Frequency (Hz)", 2302, 1403, size=TTL, ang=-90)
txt("Amplitude (pA)", 3339, 1403, size=TTL, ang=-90)
txt("Frequency (Hz)", 2330, 2415, size=TTL, ang=-90)
txt("Amplitude (pA)", 3339, 2415, size=TTL, ang=-90)

for (ys, lx1, tx) in [((1566, 1631, 1703), 2122, 2135), ((2588, 2653, 2715), 2108, 2122)]:
    for y, col, name in zip(ys, TRACE_COL, GROUPS):
        seg(2060, y, lx1, y, w=9, color=col)
        txt(name, tx, y, size=54, xa="left")

sig("ns", 2139, 1362)
sig("ns", 3231, 1362)
sig("ns", 2657, 1153); seg(2615, 1186, 2706, 1186); sig("ns", 2611, 1228); sig("ns", 2706, 1284)
sig("ns", 3685, 1153); seg(3639, 1186, 3731, 1186); sig("ns", 3635, 1228); sig("ns", 3731, 1256)
sig("***", 2211, 2265)
sig("ns", 3231, 2165)
sig("*", 2657, 2180); seg(2615, 2216, 2706, 2216); sig("ns", 2706, 2254); sig("*", 2611, 2366)
sig("ns", 3685, 2165); seg(3639, 2199, 3731, 2199); sig("ns", 3635, 2238); sig("ns", 3731, 2238)

# ------------------------------------------------------------------ PANEL E
KE_T = [-0.004, 0.0, 0.012, 0.04]
KE_F = [0.0, 1.0, 0.35, 0.0]
E_BASE_PX = [2165.0, 2455.6, 2705.0]
e_axes = []
for gi, (T, A) in enumerate([(E_CTRL_T, E_CTRL_A), (E_WT_T, E_WT_A), (E_R101Q_T, E_R101Q_A)]):
    xa, ya = new_axes((20.2, 0, 86.0), [-0.15, 20.1], (E_BASE_PX[gi], 0, 4.7), [-60, 12], visible=False)
    e_axes.append((xa, ya))
    tt, yy = event_trace(T, A, KE_T, KE_F, 0.0, 19.9)
    line_tr([0.0, 19.9], [0, 0], xa, ya, color=TRACE_COL[gi], width=24)
    line_tr(tt, yy, xa, ya, color=TRACE_COL[gi], width=3)
xa, ya = e_axes[2]
line_tr([16.71, 17.71, 17.71], [-35.5, -35.5, -25.5], xa, ya, width=6)
txt("10 pA", 1553, 2848, size=48, xa="left")
txt("1 s", 1500, 2907, size=48)
txt("Ctrl", 4, 2118, size=LAB, xa="left")
txt("WT", 4, 2396, size=LAB, xa="left")
txt("R101Q", 4, 2658, size=LAB, xa="left")

# ------------------------------------------------------------------ PANEL G
G_MAP = [(21.0, 3181.5), (141.6, 3322.8), (266.0, 3493.0)]
g_axes = []
for gi, (T, M, U, L) in enumerate([(G_CTRL_T, G_CTRL_MEAN, G_CTRL_UP, G_CTRL_LO),
                                   (G_WT_T, G_WT_MEAN, G_WT_UP, G_WT_LO),
                                   (G_R101Q_T, G_R101Q_MEAN, G_R101Q_UP, G_R101Q_LO)]):
    xa, ya = new_axes((G_MAP[gi][0], 0, 27.3), [-0.5, 8.6], (G_MAP[gi][1], 0, 6.0), [-46.5, 10], visible=False)
    g_axes.append((xa, ya))
    fig.add_trace(go.Scatter(x=list(T) + list(T)[::-1], y=list(U) + list(L)[::-1], mode="lines", fill="toself",
                             fillcolor=ENV_COL[gi], line=dict(width=0, color=ENV_COL[gi]),
                             xaxis=xa, yaxis=ya, hoverinfo="skip", showlegend=False))
    line_tr(T, M, xa, ya, color=TRACE_COL[gi], width=3.5)
xa, ya = g_axes[2]
line_tr([5.96, 7.96], [-35.5, -35.5], xa, ya, width=8)
txt("2 ms", 455, 3743, size=46)
txt("Ctrl", 105, 3117, size=LAB)
txt("WT", 230, 3261, size=LAB)
txt("R101Q", 383, 3413, size=LAB)

bar_panel((754, 848, 942), 689, 1000, 3600, 3257.5, 666.3, 0, G_RISE, G_RISE_ERR, G_N,
          [0, 0.1, 0.2, 0.3, 0.4, 0.5], ["0", "", "0.2", "", "0.4", ""], xfont=45)
bar_panel((1220, 1313, 1408), 1160, 1464, 3600, 3257.5, 148, 0, G_DECAY, G_DECAY_ERR, G_N,
          [0, 0.5, 1, 1.5, 2], ["0", "", "1", "", "2"], xfont=45)
txt("Rise-time (ms)", 540, 3431, size=TTL, ang=-90)
txt("T-decay (ms)", 1052, 3426, size=TTL, ang=-90)
for c1, c2 in [(848, 942), (1313, 1408)]:
    sig("ns", (c1 + c2) / 2, 3147)
    seg(c1, 3178, c2, 3178)
    sig("ns", c1, 3218)
    sig("ns", c2, 3218)

# ------------------------------------------------------------------ PANEL H
H_MAP = [(1589.0, 3147.0), (1704.7, 3296.5), (1823.4, 3438.3)]
H_YR = [[-460, 75], [-280, 80], [-505, 80]]
h_axes = []
for gi, (T, V) in enumerate([(H_CTRL_T, H_CTRL_V), (H_WT_T, H_WT_V), (H_R101Q_T, H_R101Q_V)]):
    xa, ya = new_axes((H_MAP[gi][0], 0, 4.7), [-15, 104], (H_MAP[gi][1], 0, 0.66), H_YR[gi], visible=False)
    h_axes.append((xa, ya))
    line_tr(T, V, xa, ya, color=TRACE_COL[gi], width=3.5)
    fig.add_trace(go.Scatter(x=H_STIM_T[gi], y=[58, 58], mode="markers",
                             marker=dict(symbol="triangle-down", size=28, color="#9a9a9a"),
                             cliponaxis=False, xaxis=xa, yaxis=ya, hoverinfo="skip", showlegend=False))
xa, ya = h_axes[2]
line_tr([62.3, 72.3, 72.3], [-418, -418, -368], xa, ya, width=6)
txt("50 pA", 2175, 3694, size=48, xa="left")
txt("10 ms", 2120, 3743, size=46)
txt("Ctrl", 1700, 3117, size=LAB)
txt("WT", 1819, 3261, size=LAB)
txt("R101Q", 1945, 3410, size=LAB)

bar_panel((2571, 2667.5, 2761), 2516, 2817, 3598.8, 3256, 1228, 0, H_AMP, H_AMP_ERR, H_AMP_N,
          [0, 0.05, 0.1, 0.15, 0.2, 0.25], ["0", "", "0.1", "", "0.2", ""], nlab_above=1, xfont=45)
bar_panel((3072, 3169, 3265), 3016, 3321.6, 3598.8, 3256, 436, 0, H_PPR, H_PPR_ERR, H_PPR_N,
          [0, 0.1, 0.2, 0.3, 0.4, 0.5, 0.6, 0.7], ["0", "", "", "0.3", "", "", "0.6", ""], xfont=45)
bar_panel((3540, 3636, 3729.5), 3480, 3784, 3598.8, 3256, 55.6, 0, H_RS, H_RS_ERR, H_RS_N,
          [0, 1.5, 3, 4.5, 6], ["0", "", "3", "", "6"], xfont=45)
txt("Amplitude (nA)", 2353, 3426, size=TTL, ang=-90)
txt("Paired-pulse ratio", 2865, 3431, size=TTL, ang=-90)
txt("Rs (MΩ)", 3376, 3426, size=TTL, ang=-90)
sig("***", 2714, 3133, size=70)
seg(2667, 3176, 2761, 3176)
sig("ns", 2761, 3225)
sig("*", 2667, 3338)
for c1, c2 in [(3169, 3265), (3636, 3729.5)]:
    sig("ns", (c1 + c2) / 2, 3142)
    seg(c1, 3175, c2, 3175)
    sig("ns", c1, 3218)
    sig("ns", c2, 3218)

# ------------------------------------------------------------------ LAYOUT
fig.update_layout(width=W, height=H, autosize=False,
                  margin=dict(l=0, r=0, t=0, b=0, pad=0, autoexpand=False),
                  paper_bgcolor="white", plot_bgcolor="rgba(0,0,0,0)", showlegend=False,
                  hovermode=False, font=dict(family=FONT, color="black"),
                  annotations=ANN, shapes=SHP, **LAY)
fig.write_html("out.html", config={"displayModeBar": False},
               post_script="document.body.style.margin='0px';document.body.style.overflow='hidden';")
